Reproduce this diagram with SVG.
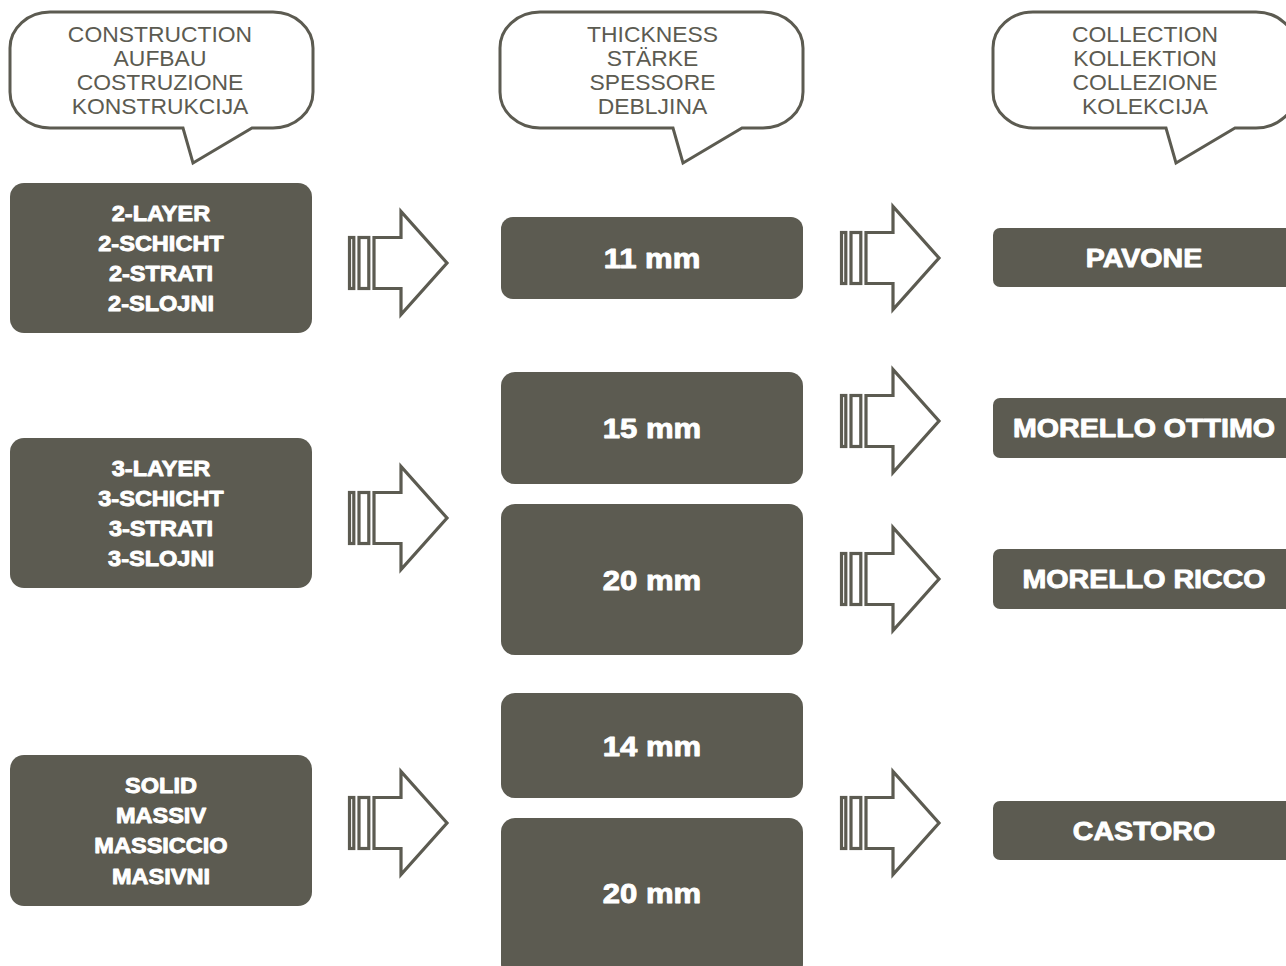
<svg xmlns="http://www.w3.org/2000/svg" width="1286" height="966" viewBox="0 0 1286 966">
<style>
.box{fill:#5c5b51}
.bub{fill:#fff;stroke:#5c5b51;stroke-width:3;stroke-linejoin:miter}
.bt{font-family:"Liberation Sans",Arial,sans-serif;font-size:22px;fill:#5c5b51;text-anchor:middle}
.t1{font-family:"Liberation Sans",Arial,sans-serif;font-weight:bold;font-size:22px;fill:#fff;stroke:#fff;stroke-width:0.9;stroke-linejoin:round;text-anchor:middle}
.t2{font-family:"Liberation Sans",Arial,sans-serif;font-weight:bold;font-size:27px;fill:#fff;stroke:#fff;stroke-width:0.9;stroke-linejoin:round;text-anchor:middle}
.t3{font-family:"Liberation Sans",Arial,sans-serif;font-weight:bold;font-size:26px;fill:#fff;stroke:#fff;stroke-width:0.9;stroke-linejoin:round;text-anchor:middle}
.arr{fill:#fff;stroke:#5c5b51;stroke-width:3.2;stroke-linejoin:miter}
</style>
<defs>
<path id="bubble" d="M50,12 H273 A40 36 0 0 1 313 48 V92 A40 36 0 0 1 273 128 H252 L193 163 L183 128 H50 A40 36 0 0 1 10 92 V48 A40 36 0 0 1 50 12 Z"/>
<g id="arrow">
<rect class="arr" x="1.5" y="-25.5" width="4.3" height="51"/>
<rect class="arr" x="11" y="-25.5" width="9.8" height="51"/>
<path class="arr" d="M26,-25.5 H53 V-51.5 L99,0 L53,51.5 V25.5 H26 Z"/>
</g>
</defs>

<g id="bubble-construction">
<use href="#bubble" class="bub"/>
<g transform="translate(160,0) scale(1.04,1)">
<text class="bt" x="0" y="42">CONSTRUCTION</text>
<text class="bt" x="0" y="66">AUFBAU</text>
<text class="bt" x="0" y="90">COSTRUZIONE</text>
<text class="bt" x="0" y="114">KONSTRUKCIJA</text>
</g>
</g>
<g id="bubble-thickness">
<use href="#bubble" class="bub" transform="translate(490,0)"/>
<g transform="translate(652.5,0) scale(1.04,1)">
<text class="bt" x="0" y="42">THICKNESS</text>
<text class="bt" x="0" y="66">STÄRKE</text>
<text class="bt" x="0" y="90">SPESSORE</text>
<text class="bt" x="0" y="114">DEBLJINA</text>
</g>
</g>
<g id="bubble-collection">
<use href="#bubble" class="bub" transform="translate(983,0)"/>
<g transform="translate(1145,0) scale(1.04,1)">
<text class="bt" x="0" y="42">COLLECTION</text>
<text class="bt" x="0" y="66">KOLLEKTION</text>
<text class="bt" x="0" y="90">COLLEZIONE</text>
<text class="bt" x="0" y="114">KOLEKCIJA</text>
</g>
</g>

<g id="node-2layer">
<rect class="box" x="10" y="183" width="302" height="150" rx="14"/>
<g transform="translate(161,0) scale(1.07,1)">
<text class="t1" x="0" y="221">2-LAYER</text>
<text class="t1" x="0" y="251">2-SCHICHT</text>
<text class="t1" x="0" y="281">2-STRATI</text>
<text class="t1" x="0" y="311.5">2-SLOJNI</text>
</g>
</g>
<g id="node-3layer">
<rect class="box" x="10" y="438" width="302" height="150" rx="14"/>
<g transform="translate(161,0) scale(1.07,1)">
<text class="t1" x="0" y="476">3-LAYER</text>
<text class="t1" x="0" y="506">3-SCHICHT</text>
<text class="t1" x="0" y="536.5">3-STRATI</text>
<text class="t1" x="0" y="566.5">3-SLOJNI</text>
</g>
</g>
<g id="node-solid">
<rect class="box" x="10" y="755" width="302" height="151" rx="14"/>
<g transform="translate(161,0) scale(1.07,1)">
<text class="t1" x="0" y="793.5">SOLID</text>
<text class="t1" x="0" y="823.5">MASSIV</text>
<text class="t1" x="0" y="853.5">MASSICCIO</text>
<text class="t1" x="0" y="884">MASIVNI</text>
</g>
</g>

<g id="node-11mm">
<rect class="box" x="501" y="217" width="302" height="82" rx="12"/>
<text class="t2" transform="translate(652,0) scale(1.15,1)" x="0" y="268">11 mm</text>
</g>
<g id="node-15mm">
<rect class="box" x="501" y="372" width="302" height="112" rx="14"/>
<text class="t2" transform="translate(652,0) scale(1.15,1)" x="0" y="438">15 mm</text>
</g>
<g id="node-20mm-a">
<rect class="box" x="501" y="504" width="302" height="151" rx="14"/>
<text class="t2" transform="translate(652,0) scale(1.15,1)" x="0" y="590">20 mm</text>
</g>
<g id="node-14mm">
<rect class="box" x="501" y="693" width="302" height="105" rx="14"/>
<text class="t2" transform="translate(652,0) scale(1.15,1)" x="0" y="756">14 mm</text>
</g>
<g id="node-20mm-b">
<rect class="box" x="501" y="818" width="302" height="160" rx="14"/>
<text class="t2" transform="translate(652,0) scale(1.15,1)" x="0" y="903">20 mm</text>
</g>

<g id="node-pavone">
<rect class="box" x="993" y="228" width="310" height="59" rx="7"/>
<text class="t3" transform="translate(1144,0) scale(1.1,1)" x="0" y="267">PAVONE</text>
</g>
<g id="node-morello-ottimo">
<rect class="box" x="993" y="398" width="310" height="60" rx="7"/>
<text class="t3" transform="translate(1144,0) scale(1.1,1)" x="0" y="437">MORELLO OTTIMO</text>
</g>
<g id="node-morello-ricco">
<rect class="box" x="993" y="549" width="310" height="60" rx="7"/>
<text class="t3" transform="translate(1144,0) scale(1.1,1)" x="0" y="588">MORELLO RICCO</text>
</g>
<g id="node-castoro">
<rect class="box" x="993" y="801" width="310" height="59" rx="7"/>
<text class="t3" transform="translate(1144,0) scale(1.1,1)" x="0" y="840">CASTORO</text>
</g>

<g id="connectors">
<use href="#arrow" transform="translate(348,263)"/>
<use href="#arrow" transform="translate(348,518)"/>
<use href="#arrow" transform="translate(348,823)"/>
<use href="#arrow" transform="translate(840,258)"/>
<use href="#arrow" transform="translate(840,421)"/>
<use href="#arrow" transform="translate(840,579)"/>
<use href="#arrow" transform="translate(840,823)"/>
</g>
</svg>
